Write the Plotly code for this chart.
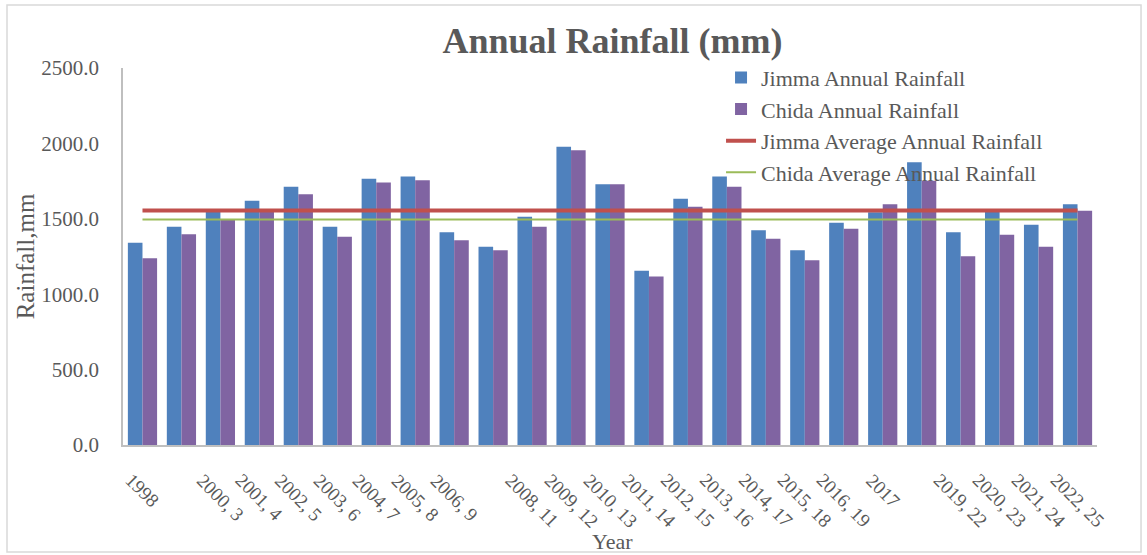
import plotly.graph_objects as go

years = list(range(1998, 2023))
tick_labels = ["1998", "", "2000, 3", "2001, 4", "2002, 5", "2003, 6", "2004, 7",
               "2005, 8", "2006, 9", "", "2008, 11", "2009, 12", "2010, 13",
               "2011, 14", "2012, 15", "2013, 16", "2014, 17", "2015, 18",
               "2016, 19", "2017", "", "2019, 22", "2020, 23", "2021, 24", "2022, 25"]
jimma = [1341, 1448, 1547, 1620, 1713, 1448, 1766, 1781, 1410, 1315, 1514, 1978, 1729,
         1156, 1633, 1781, 1424, 1291, 1474, 1543, 1875, 1410, 1547, 1461, 1596]
chida = [1238, 1397, 1497, 1547, 1662, 1381, 1740, 1755, 1357, 1291, 1448, 1954, 1729,
         1118, 1580, 1713, 1368, 1225, 1434, 1596, 1753, 1251, 1395, 1315, 1554]
jimma_avg = 1555
chida_avg = 1495

FONT = "Liberation Serif, Times New Roman, serif"
GRAY = "#595959"

fig = go.Figure()
fig.add_trace(go.Bar(x=years, y=jimma, name="Jimma Annual Rainfall",
                     marker=dict(color="#4F81BD", line=dict(width=0))))
fig.add_trace(go.Bar(x=years, y=chida, name="Chida Annual Rainfall",
                     marker=dict(color="#8064A2", line=dict(width=0))))
fig.add_trace(go.Scatter(x=years, y=[jimma_avg] * len(years), mode="lines",
                         name="Jimma Average Annual Rainfall",
                         line=dict(color="#C0504D", width=4)))
fig.add_trace(go.Scatter(x=years, y=[chida_avg] * len(years), mode="lines",
                         name="Chida Average Annual Rainfall",
                         line=dict(color="#9BBB59", width=2)))

for yr, lab in zip(years, tick_labels):
    if lab:
        fig.add_annotation(x=yr, y=0, xref="x", yref="y", text=lab, showarrow=False,
                           textangle=45, xanchor="center", yanchor="top", yshift=-22,
                           font=dict(family=FONT, size=19, color=GRAY))

fig.add_annotation(x=0.503, y=-0.255, xref="paper", yref="paper", text="Year",
                   showarrow=False, xanchor="center", yanchor="middle",
                   font=dict(family=FONT, size=22, color=GRAY))

fig.add_shape(type="rect", xref="paper", yref="paper",
              x0=-0.1191, x1=1.0452, y0=-0.2838, y1=1.167,
              line=dict(color="#d9d9d9", width=1.5), layer="below")

fig.update_layout(
    width=1147, height=555,
    margin=dict(l=123, r=50, t=68, b=110),
    paper_bgcolor="white", plot_bgcolor="white",
    barmode="group", bargap=0.25, bargroupgap=0,
    title=dict(text="<b>Annual Rainfall (mm)</b>", xref="container", x=0.534,
               xanchor="center", y=0.928, yanchor="middle",
               font=dict(family=FONT, size=36, color=GRAY)),
    legend=dict(x=0.614, y=1.03, xanchor="left", yanchor="top",
                bgcolor="rgba(0,0,0,0)", font=dict(family=FONT, size=22, color=GRAY),
                tracegroupgap=0, itemwidth=30),
    xaxis=dict(range=[1997.5, 2022.5], showticklabels=False, showgrid=False,
               zeroline=False, showline=True, linecolor="#bfbfbf", linewidth=1.5,
               ticks=""),
    yaxis=dict(range=[0, 2500], dtick=500, tickformat=".1f", showgrid=False,
               zeroline=False, showline=True, linecolor="#bfbfbf", linewidth=1.5,
               ticks="", ticklabelstandoff=18,
               tickfont=dict(family=FONT, size=21, color=GRAY),
               title=dict(text="Rainfall,mm", standoff=0,
                          font=dict(family=FONT, size=25, color=GRAY))),
)

fig.write_html("out.html", config={"displayModeBar": False},
               post_script="document.body.style.margin='0';document.body.style.overflow='hidden';")
